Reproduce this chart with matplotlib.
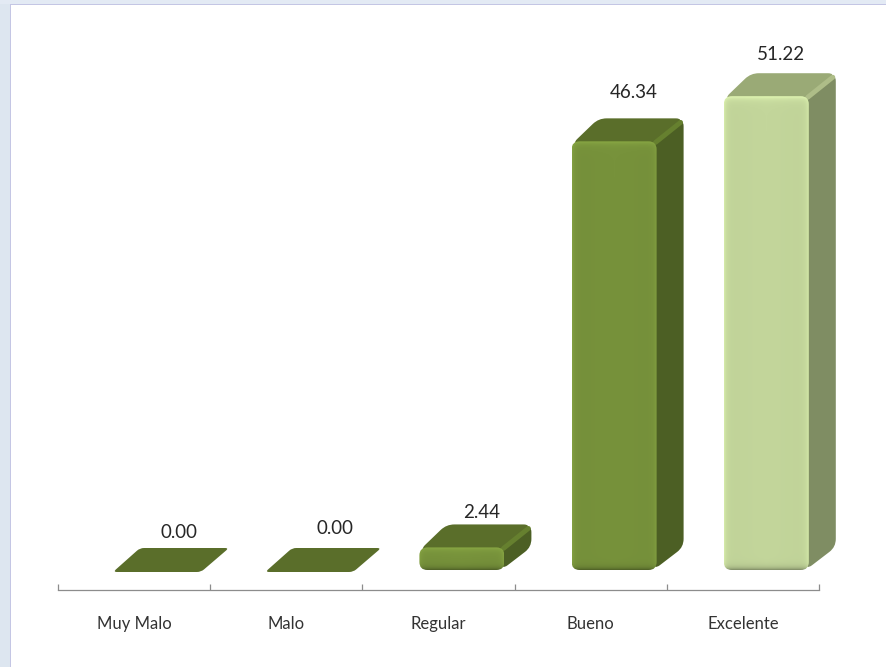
import numpy as np
import matplotlib
matplotlib.use('Agg')
from matplotlib import pylab as plt
from matplotlib.colors import to_rgb
from matplotlib.patches import PathPatch, Rectangle
from matplotlib.path import Path

categories = ['Muy Malo', 'Malo', 'Regular', 'Bueno', 'Excelente']
values = [0.00, 0.00, 2.44, 46.34, 51.22]

# colours per bar: front, top, side
front_cols = ['#77923b', '#77923b', '#77923b', '#77923b', '#c3d69b']
top_cols = ['#5a6e2a', '#5a6e2a', '#5a6e2a', '#5a6e2a', '#9aaa76']
side_cols = ['#4c5f24', '#4c5f24', '#4c5f24', '#4c5f24', '#7f8d63']
ridge_cols = ['#66802f', '#66802f', '#66802f', '#66802f', '#aebd88']

W, H = 886, 667
PX_X = 152.2      # pixels per category
PX_Y = 9.25       # pixels per unit
AX_L, AX_R, AX_B, AX_T = 58, 819, 590, 20
BASE = 20 / PX_Y  # axis line sits below the foot of the bars

plt.rcParams['font.family'] = ['Lato', 'DejaVu Sans']
fig = plt.figure(figsize=(W / 100, H / 100), dpi=100, facecolor='white')

# window frame of the slide
fig.add_artist(Rectangle((0, 0), 10 / W, 1, transform=fig.transFigure, color='#dde6f0', lw=0))
fig.add_artist(Rectangle((0, 1 - 4 / H), 1, 4 / H, transform=fig.transFigure, color='#e3eaf4', lw=0))
fig.add_artist(Rectangle((10 / W, 0), 1.2 / W, 1 - 4 / H, transform=fig.transFigure, color='#c4c6e4', lw=0))
fig.add_artist(Rectangle((10 / W, 1 - 5.2 / H), 1, 1.2 / H, transform=fig.transFigure, color='#c4c6e4', lw=0))

ax = fig.add_axes([AX_L / W, 1 - AX_B / H, (AX_R - AX_L) / W, (AX_B - AX_T) / H])
ax.patch.set_alpha(0)


def rounded(pts, r):
    # closed path through pts (given in data coords) with corners rounded by r pixels
    p = np.array(pts, float) * [PX_X, PX_Y]
    verts, codes = [], []
    n = len(p)
    for i in range(n):
        a, b, c = p[i - 1], p[i], p[(i + 1) % n]
        r1 = min(r, np.linalg.norm(a - b) / 2.01)
        r2 = min(r, np.linalg.norm(c - b) / 2.01)
        s = b + (a - b) / np.linalg.norm(a - b) * r1
        e = b + (c - b) / np.linalg.norm(c - b) * r2
        verts += [s, b, e]
        codes += [Path.MOVETO if i == 0 else Path.LINETO, Path.CURVE3, Path.CURVE3]
    verts.append(verts[0])
    codes.append(Path.CLOSEPOLY)
    return Path(np.array(verts) / [PX_X, PX_Y], codes)


def shaded(col, w, h):
    # front face image: brighter rim on top and sides, darker at the foot
    w, h = int(max(w, 2)), int(max(h, 2))
    y, x = np.mgrid[0:h, 0:w]
    d_side = np.minimum(x, w - 1 - x)
    d_top = y
    d_bot = h - 1 - y
    s = np.full((h, w), 1.0)
    s += 0.16 * np.exp(-d_top / 3.0) + 0.10 * np.exp(-d_side / 2.5)
    s -= 0.30 * np.exp(-d_bot / 2.5)
    s -= 0.03 * np.abs(x / (w - 1) - 0.5)
    return np.clip(np.array(to_rgb(col))[None, None, :] * s[:, :, None], 0, 1)


bar_off = 57 / PX_X
bar_w = 85 / PX_X
dx = 27 / PX_X
dy = 23 / PX_Y
for i, v in enumerate(values):
    x0 = i + bar_off
    x1 = x0 + bar_w
    if v == 0:
        # empty category: only the flat lid is left
        low = -2 / PX_Y
        ax.add_patch(PathPatch(rounded([(x0 - 2 / PX_X, low), (x1 + 1 / PX_X, low),
                                        (x1 + dx + 2 / PX_X, low + dy + 1 / PX_Y),
                                        (x0 + dx - 2 / PX_X, low + dy + 1 / PX_Y)], 4),
                               fc=top_cols[i], ec='none', clip_on=False))
    else:
        side = PathPatch(rounded([(x1 - 3 / PX_X, 0), (x1 + dx, dy), (x1 + dx, v + dy), (x1 - 3 / PX_X, v)], 8),
                         fc=side_cols[i], ec='none', clip_on=False, zorder=2)
        top = PathPatch(rounded([(x0, v - 3 / PX_Y), (x1, v - 3 / PX_Y), (x1 + dx, v + dy), (x0 + dx, v + dy)], 8),
                        fc=top_cols[i], ec='none', clip_on=False, zorder=2)
        ax.add_patch(side)
        ax.add_patch(top)
        # light ridge between lid and side
        ax.plot([x1 - 1 / PX_X, x1 + dx - 3 / PX_X], [v - 1 / PX_Y, v + dy - 4 / PX_Y],
                color=ridge_cols[i], lw=3.5, solid_capstyle='round', zorder=2.5, clip_on=False)
        front = PathPatch(rounded([(x0, 0), (x1, 0), (x1, v), (x0, v)], 8), fc='none', ec='none', zorder=3, clip_on=False)
        ax.add_patch(front)
        im = ax.imshow(shaded(front_cols[i], 85, v * PX_Y), extent=(x0, x1, 0, v), aspect='auto', zorder=3,
                       interpolation='bilinear', clip_on=True)
        im.set_clip_path(front)

# value labels sit a little off the bar centre in the original's perspective (pixels)
label_off = [45, 49, 43, 43, 38]
label_gap = [37, 41, 11.5, 26, 19]
for i, v in enumerate(values):
    ax.annotate('%.2f' % v, xy=(i + 0.5, v + dy if v > 0 else 0),
                xytext=(label_off[i] * 0.72, label_gap[i] * 0.72),
                textcoords='offset points', ha='center', va='center', fontsize=13.5, color='#262626')

ax.set_xlim(0, 5)
ax.set_ylim(-BASE, (AX_B - AX_T) / PX_Y - BASE)
ax.set_yticks([])
for s in ['top', 'left', 'right']:
    ax.spines[s].set_visible(False)
ax.spines['bottom'].set_color('#8c8c8c')
ax.spines['bottom'].set_linewidth(0.9)
ax.set_xticks(range(6))
ax.set_xticklabels([])
ax.tick_params(axis='x', which='major', direction='in', length=4.5, width=0.9, color='#8c8c8c')
ax.set_xticks(np.arange(5) + 0.5, minor=True)
ax.set_xticklabels(categories, minor=True, fontsize=12, color='#333333')
ax.tick_params(axis='x', which='minor', length=0, pad=18.5)

fig.savefig('out.png', dpi=100)
